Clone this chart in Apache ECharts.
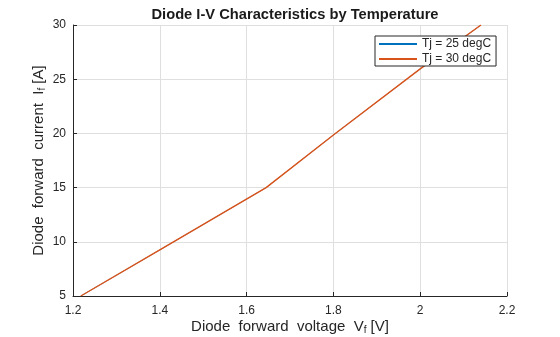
<!DOCTYPE html>
<html>
<head>
<meta charset="utf-8">
<script src="https://cdn.jsdelivr.net/npm/echarts@6/dist/echarts.min.js"></script>
<style>
  html, body { margin: 0; padding: 0; background: #fff; }
  #chart { width: 560px; height: 337px; }
</style>
</head>
<body>
<div id="chart"></div>
<script>
// Forward voltage (V) and forward current (A) samples of the diode curve
const vf25 = [1.218, 1.4, 1.645, 1.8, 2.0, 2.14];
const if25 = [5, 9.25, 15, 19.85, 25.95, 30];
const vf30 = [1.218, 1.4, 1.645, 1.8, 2.0, 2.14];
const if30 = [5, 9.25, 15, 19.85, 25.95, 30];

const seriesNames = ['Tj = 25 degC', 'Tj = 30 degC'];
const xTicks = [1.2, 1.4, 1.6, 1.8, 2, 2.2];
const yTicks = [5, 10, 15, 20, 25, 30];

const FONT = 'Liberation Sans, Arial, sans-serif';
const INK = '#262626';
const BLUE = '#0072BD';
const ORANGE = '#D95319';

const pairs = (xs, ys) => xs.map((x, i) => [x, ys[i]]);

const chart = echarts.init(document.getElementById('chart'), null, { renderer: 'canvas' });

const axisCommon = {
  type: 'value',
  axisLine: { show: true, onZero: false, lineStyle: { color: INK, width: 1 } },
  axisTick: { show: true, inside: true, length: 4, lineStyle: { color: INK } },
  splitLine: { show: true, lineStyle: { color: '#dfdfdf', width: 1 } },
  axisLabel: { color: INK, fontFamily: FONT, fontSize: 12 }
};

const nameRich = {
  n: { fontFamily: FONT, fontSize: 15, color: INK },
  s: { fontFamily: FONT, fontSize: 10, color: INK, verticalAlign: 'bottom', padding: [7, 0, 0, 0] }
};

chart.setOption({
  animation: false,
  backgroundColor: '#ffffff',
  title: {
    text: 'Diode I-V Characteristics by Temperature',
    left: 290,
    textAlign: 'center',
    top: 2,
    textStyle: { fontFamily: FONT, fontSize: 14.7, fontWeight: 'bold', color: '#1a1a1a' }
  },
  legend: {
    data: seriesNames,
    orient: 'vertical',
    left: 375,
    top: 36,
    itemWidth: 38,
    itemHeight: 2,
    itemGap: 3,
    padding: [2, 5, 1, 4],
    backgroundColor: '#ffffff',
    borderColor: INK,
    borderWidth: 1,
    borderRadius: 0,
    icon: 'rect',
    textStyle: { fontFamily: FONT, fontSize: 12, color: INK, padding: [0, 0, 0, 0] }
  },
  grid: { left: 73, right: 53, top: 25, bottom: 41, containLabel: false, outerBoundsMode: 'none' },
  xAxis: Object.assign({}, axisCommon, {
    min: xTicks[0],
    max: xTicks[xTicks.length - 1],
    interval: 0.2,
    name: '{n|Diode  forward  voltage  V}{s|f}{n| [V]}',
    nameLocation: 'middle',
    nameGap: 22,
    nameMoveOverlap: false,
    nameTextStyle: { rich: nameRich },
    axisLabel: Object.assign({}, axisCommon.axisLabel, {
      margin: 9,
      formatter: v => String(Math.round(v * 10) / 10)
    })
  }),
  yAxis: Object.assign({}, axisCommon, {
    min: yTicks[0],
    max: yTicks[yTicks.length - 1],
    interval: 5,
    name: '{n|Diode  forward  current  I}{s|f}{n| [A]}',
    nameLocation: 'middle',
    nameGap: 26,
    nameMoveOverlap: false,
    nameTextStyle: { rich: nameRich },
    axisLabel: Object.assign({}, axisCommon.axisLabel, { margin: 7 })
  }),
  series: [
    {
      name: seriesNames[0],
      type: 'line',
      data: pairs(vf25, if25),
      showSymbol: false,
      symbol: 'none',
      clip: true,
      lineStyle: { color: BLUE, width: 0.6 },
      itemStyle: { color: BLUE }
    },
    {
      name: seriesNames[1],
      type: 'line',
      data: pairs(vf30, if30),
      showSymbol: false,
      symbol: 'none',
      clip: true,
      lineStyle: { color: ORANGE, width: 1.4 },
      itemStyle: { color: ORANGE }
    }
  ]
});
</script>
</body>
</html>
